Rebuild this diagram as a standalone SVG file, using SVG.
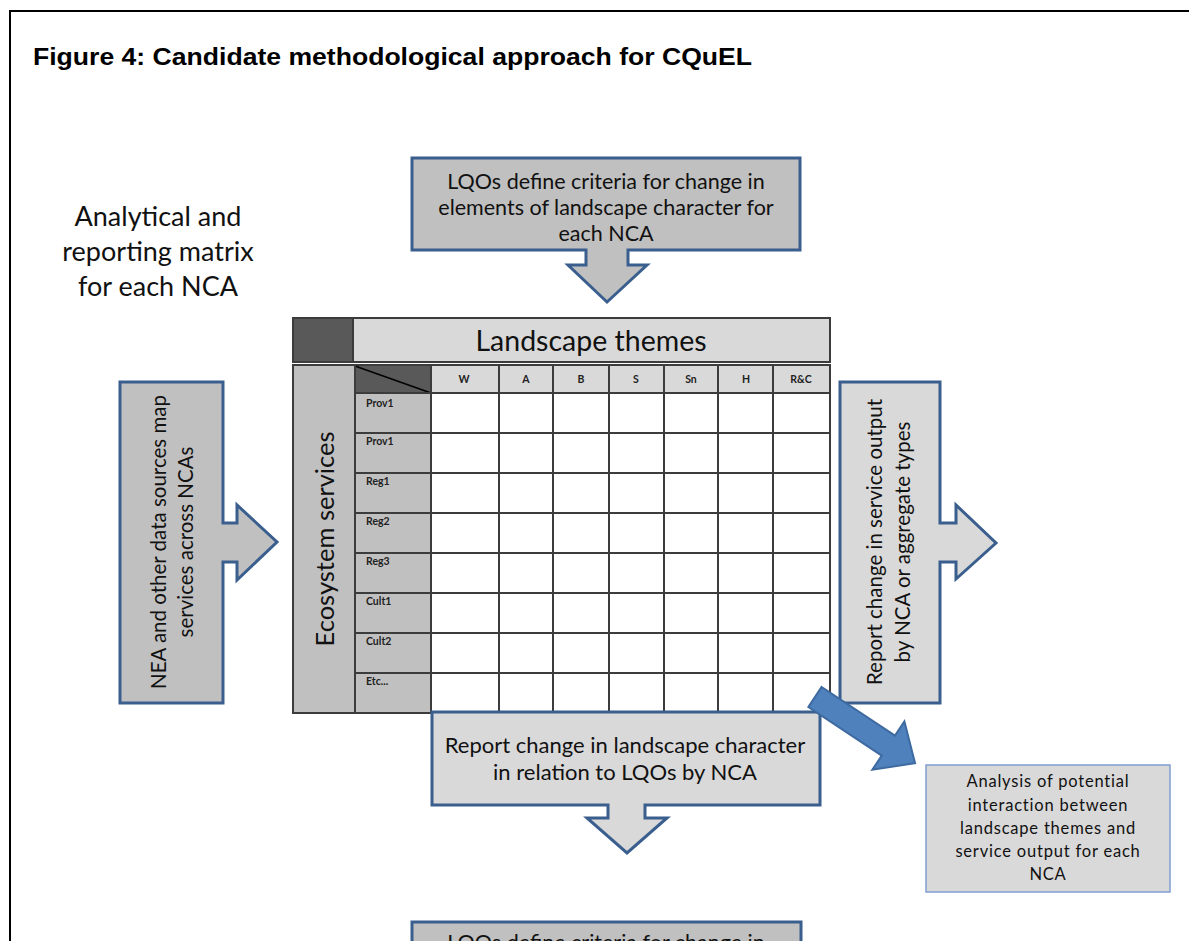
<svg xmlns="http://www.w3.org/2000/svg" width="1189" height="941" viewBox="0 0 1189 941">
<style>
.cal{font-family:Lato,"Open Sans","Liberation Sans",sans-serif;fill:#111}
.call{fill:#c0c0c0;stroke:#3a5f8e;stroke-width:3;stroke-linejoin:miter}
.callL{fill:#d9d9d9;stroke:#3a5f8e;stroke-width:3;stroke-linejoin:miter}
.grid{stroke:#3c3c3c;stroke-width:2;fill:none}
.small{font-family:Lato,"Open Sans","Liberation Sans",sans-serif;font-weight:bold;font-size:10.5px;fill:#222}
.mid{text-anchor:middle}
</style>
<rect width="1189" height="941" fill="#fff"/>
<g id="frame"><path d="M10 960 V11 H1200" fill="none" stroke="#000" stroke-width="2"/></g>
<g id="title"><text x="33" y="65" font-family="'Liberation Sans',Arial,sans-serif" font-weight="bold" font-size="23" textLength="719" lengthAdjust="spacingAndGlyphs" fill="#000">Figure 4: Candidate methodological approach for CQuEL</text></g>
<g id="matrix-label">
<text x="158" y="226" class="cal mid" font-size="27" fill="#333">Analytical and</text>
<text x="158" y="261" class="cal mid" font-size="27" fill="#333">reporting matrix</text>
<text x="158" y="296" class="cal mid" font-size="27" fill="#333">for each NCA</text>
</g>
<g id="matrix">
<rect x="293" y="318" width="60" height="44" fill="#595959" stroke="#3c3c3c" stroke-width="2"/>
<rect x="353" y="318" width="477" height="44" fill="#d9d9d9" stroke="#3c3c3c" stroke-width="2"/>
<text x="591" y="351" class="cal mid" font-size="28.5">Landscape themes</text>
<rect x="293" y="365" width="62" height="348" fill="#c0c0c0" stroke="#3c3c3c" stroke-width="2"/>
<text transform="translate(334,539) rotate(-90)" class="cal mid" font-size="25.5">Ecosystem services</text>
<rect x="355" y="365" width="76" height="28" fill="#595959" stroke="#3c3c3c" stroke-width="2"/>
<line x1="355" y1="366" x2="431" y2="393" stroke="#000" stroke-width="1.5"/>
<rect x="431" y="365" width="399" height="28" fill="#d9d9d9"/>
<rect x="355" y="393" width="76" height="320" fill="#c0c0c0"/>
<rect x="431" y="393" width="399" height="320" fill="#fff"/>
<g class="grid">
<path d="M431 365 H830 V713 H293"/>
<path d="M355 393 H830 M355 433 H830 M355 473 H830 M355 513 H830 M355 553 H830 M355 593 H830 M355 633 H830 M355 673 H830"/>
<path d="M431 365 V713 M499 365 V713 M553 365 V713 M609 365 V713 M664 365 V713 M718 365 V713 M773 365 V713"/>
<path d="M355 365 V713"/>
</g>
<g class="small">
<text x="464" y="383" class="small mid">W</text>
<text x="526" y="383" class="small mid">A</text>
<text x="581" y="383" class="small mid">B</text>
<text x="636" y="383" class="small mid">S</text>
<text x="691" y="383" class="small mid">Sn</text>
<text x="746" y="383" class="small mid">H</text>
<text x="801" y="383" class="small mid">R&amp;C</text>
<text x="366" y="407">Prov1</text>
<text x="366" y="445">Prov1</text>
<text x="366" y="485">Reg1</text>
<text x="366" y="525">Reg2</text>
<text x="366" y="565">Reg3</text>
<text x="366" y="605">Cult1</text>
<text x="366" y="645">Cult2</text>
<text x="366" y="685">Etc...</text>
</g>
</g>
<g id="top-callout">
<path class="call" d="M412 158 H800 V250 H628 V265 H647 L607 302 L568 265 H586 V250 H412 Z"/>
<text x="606" y="189" class="cal mid" font-size="21.5">LQOs define criteria for change in</text>
<text x="606" y="215" class="cal mid" font-size="21.5">elements of landscape character for</text>
<text x="606" y="241" class="cal mid" font-size="21.5">each NCA</text>
</g>
<g id="left-callout">
<path class="call" d="M120 382 H223 V523 H237 V505 L277 542 L237 580 V562 H223 V703 H120 Z"/>
<text transform="translate(166,542) rotate(-90)" class="cal mid" font-size="20.5">NEA and other data sources map</text>
<text transform="translate(193,542) rotate(-90)" class="cal mid" font-size="20.5">services across NCAs</text>
</g>
<g id="right-callout">
<path class="callL" d="M840 382 H940 V523 H956 V505 L996 543 L956 579 V562 H940 V703 H840 Z"/>
<text transform="translate(882,542) rotate(-90)" class="cal mid" font-size="20.5">Report change in service output</text>
<text transform="translate(910,542) rotate(-90)" class="cal mid" font-size="20.5">by NCA or aggregate types</text>
</g>
<g id="bottom-callout">
<path class="callL" d="M432 712 H820 V805 H645 V818 H667 L627 853 L587 818 H608 V805 H432 Z"/>
<text x="625" y="753" class="cal mid" font-size="22">Report change in landscape character</text>
<text x="625" y="780" class="cal mid" font-size="22">in relation to LQOs by NCA</text>
</g>
<g id="connectors">
<g transform="translate(815,697) rotate(33.5)">
<path d="M0 -12 H88 V-29 L120 0 L88 29 V12 H0 Z" fill="#4f81bd" stroke="#3d6aa0" stroke-width="2"/>
</g>
</g>
<g id="analysis">
<rect x="926" y="765" width="244" height="127" fill="#d9d9d9" stroke="#7f9fd0" stroke-width="1.5"/>
<g class="cal" font-size="16.5" letter-spacing="0.8" fill="#222">
<text x="1048" y="787" text-anchor="middle">Analysis of potential</text>
<text x="1048" y="811" text-anchor="middle">interaction between</text>
<text x="1048" y="834" text-anchor="middle">landscape themes and</text>
<text x="1048" y="857" text-anchor="middle">service output for each</text>
<text x="1048" y="880" text-anchor="middle">NCA</text>
</g>
</g>
<g id="bottom-box">
<rect x="412" y="922" width="389" height="40" class="call"/>
<text x="606" y="950" class="cal mid" font-size="21.5">LQOs define criteria for change in</text>
</g>
</svg>
